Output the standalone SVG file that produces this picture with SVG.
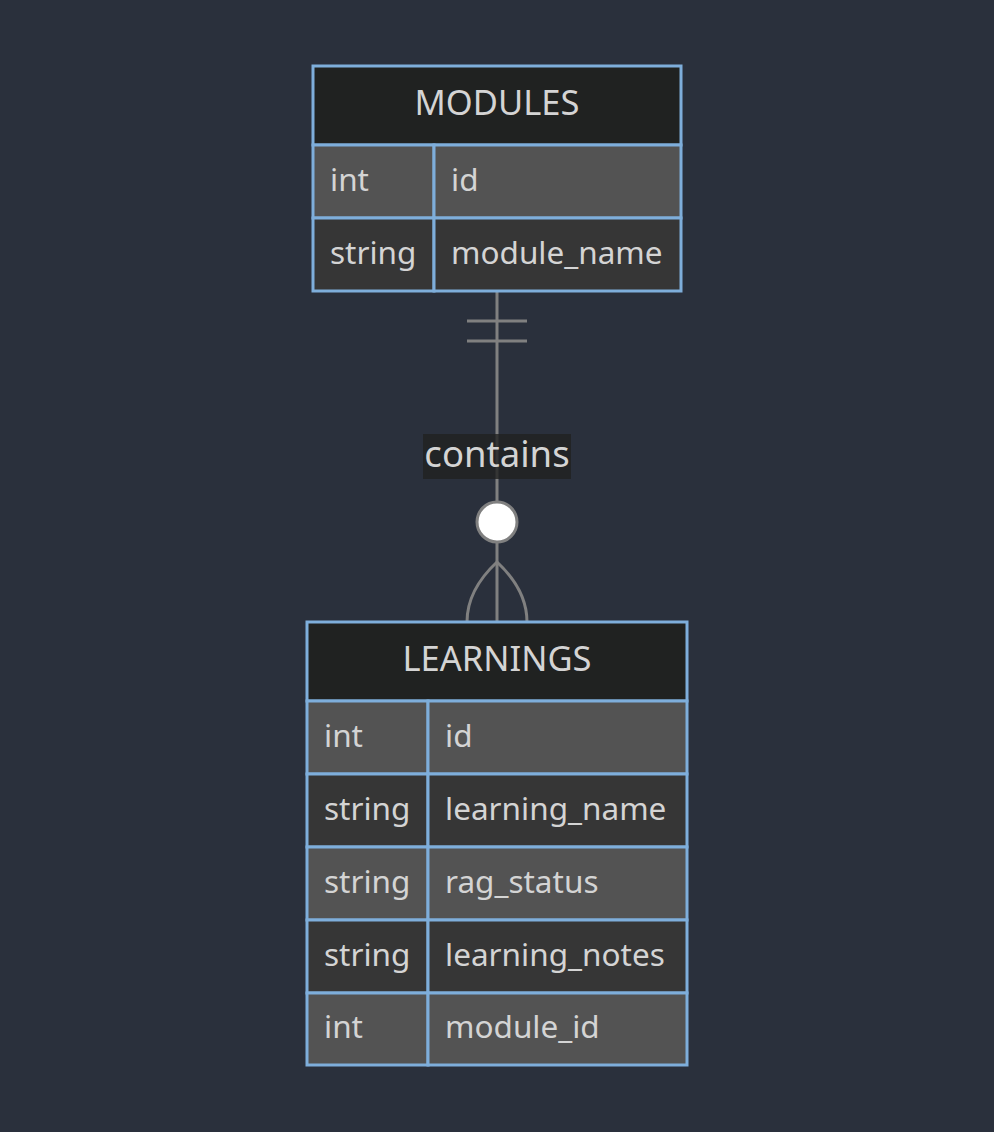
<svg xmlns="http://www.w3.org/2000/svg" width="994" height="1132" viewBox="0 0 994 1132">
<style>
.bg{fill:#2a303c}
.hdr{fill:#202221;stroke:#7eaedb;stroke-width:3}
.odd{fill:#535353;stroke:#7eaedb;stroke-width:3}
.even{fill:#363636;stroke:#7eaedb;stroke-width:3}
.t{font-family:"Noto Sans","DejaVu Sans",sans-serif;font-size:31.5px;fill:#d4d4d4}
.h{font-family:"Noto Sans","DejaVu Sans",sans-serif;font-size:34.5px;fill:#d4d4d4;text-anchor:middle}
.ln{stroke:#808080;stroke-width:3;fill:none}
</style>
<rect class="bg" x="0" y="0" width="994" height="1132"/>
<g id="connectors">
<path class="ln" d="M497,291 V622"/>
<path class="ln" d="M467,321 H527 M467,341 H527"/>
<rect x="423" y="434" width="148" height="45" fill="#202221" opacity="0.8"/>
<text class="t" x="497" y="467" text-anchor="middle" style="font-size:36.5px">contains</text>
<circle cx="497" cy="522" r="20" fill="#ffffff" stroke="#808080" stroke-width="3"/>
<path class="ln" d="M497,562 Q467,590 467,622 M497,562 Q527,590 527,622"/>
</g>
<g id="MODULES">
<rect class="hdr" x="313" y="66" width="368" height="79"/>
<text class="h" x="497" y="115">MODULES</text>
<rect class="odd" x="313" y="145" width="121" height="73"/>
<rect class="odd" x="434" y="145" width="247" height="73"/>
<rect class="even" x="313" y="218" width="121" height="73"/>
<rect class="even" x="434" y="218" width="247" height="73"/>
<text class="t" x="330" y="191">int</text>
<text class="t" x="451" y="191">id</text>
<text class="t" x="330" y="264">string</text>
<text class="t" x="451" y="264">module_name</text>
</g>
<g id="LEARNINGS">
<rect class="hdr" x="307" y="622" width="380" height="79"/>
<text class="h" x="497" y="671">LEARNINGS</text>
<rect class="odd" x="307" y="701" width="121" height="73"/>
<rect class="odd" x="428" y="701" width="259" height="73"/>
<rect class="even" x="307" y="774" width="121" height="73"/>
<rect class="even" x="428" y="774" width="259" height="73"/>
<rect class="odd" x="307" y="847" width="121" height="73"/>
<rect class="odd" x="428" y="847" width="259" height="73"/>
<rect class="even" x="307" y="920" width="121" height="73"/>
<rect class="even" x="428" y="920" width="259" height="73"/>
<rect class="odd" x="307" y="993" width="121" height="72"/>
<rect class="odd" x="428" y="993" width="259" height="72"/>
<text class="t" x="324" y="747">int</text>
<text class="t" x="445" y="747">id</text>
<text class="t" x="324" y="820">string</text>
<text class="t" x="445" y="820">learning_name</text>
<text class="t" x="324" y="893">string</text>
<text class="t" x="445" y="893">rag_status</text>
<text class="t" x="324" y="966">string</text>
<text class="t" x="445" y="966">learning_notes</text>
<text class="t" x="324" y="1038">int</text>
<text class="t" x="445" y="1038">module_id</text>
</g>
</svg>
